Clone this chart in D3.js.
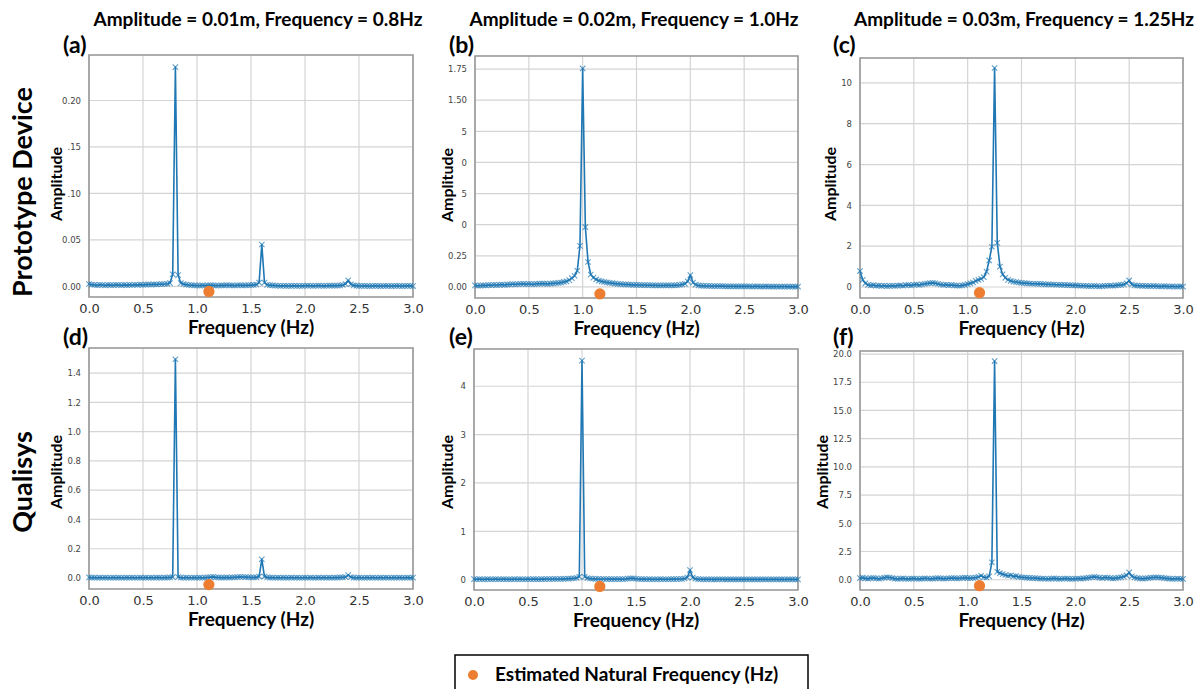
<!DOCTYPE html>
<html>
<head>
<meta charset="utf-8">
<script src="https://cdn.jsdelivr.net/npm/d3@7/dist/d3.min.js"></script>
<style>
  body { margin: 0; background: #fff; }
  svg { display: block; }
</style>
</head>
<body>
<script>
// ---------------- DATA ----------------
const columnTitles = ["Amplitude = 0.01m, Frequency = 0.8Hz", "Amplitude = 0.02m, Frequency = 1.0Hz", "Amplitude = 0.03m, Frequency = 1.25Hz"];
const rowTitles = ["Prototype Device", "Qualisys"];
const panelLabels = ["(a)", "(b)", "(c)", "(d)", "(e)", "(f)"];
const legendLabel = "Estimated Natural Frequency (Hz)";

const freqs = [0,0.025,0.05,0.075,0.1,0.125,0.15,0.175,0.2,0.225,0.25,0.275,0.3,0.325,0.35,0.375,0.4,0.425,0.45,0.475,
  0.5,0.525,0.55,0.575,0.6,0.625,0.65,0.675,0.7,0.725,0.75,0.775,0.8,0.825,0.85,0.875,0.9,0.925,0.95,0.975,
  1.0,1.025,1.05,1.075,1.1,1.125,1.15,1.175,1.2,1.225,1.25,1.275,1.3,1.325,1.35,1.375,1.4,1.425,1.45,1.475,
  1.5,1.525,1.55,1.575,1.6,1.625,1.65,1.675,1.7,1.725,1.75,1.775,1.8,1.825,1.85,1.875,1.9,1.925,1.95,1.975,
  2.0,2.025,2.05,2.075,2.1,2.125,2.15,2.175,2.2,2.225,2.25,2.275,2.3,2.325,2.35,2.375,2.4,2.425,2.45,2.475,
  2.5,2.525,2.55,2.575,2.6,2.625,2.65,2.675,2.7,2.725,2.75,2.775,2.8,2.825,2.85,2.875,2.9,2.925,2.95,2.975,3.0];

const ampA = [0.0025,0.0018,0.0015,0.0012,0.0016,0.0014,0.0011,0.0015,0.0013,0.0012,0.0016,0.0014,0.0012,0.0015,0.0013,0.0016,0.0014,0.0017,0.0015,0.0018,0.0016,
  0.0018,0.0020,0.0019,0.0021,0.0020,0.0022,0.0023,0.0025,0.0028,0.0035,
  0.013,0.236,0.012,
  0.0035,0.0025,0.0018,0.0014,0.0012,0.0010,0.0009,
  0.0008,0.0010,0.0009,0.0011,0.0012,0.0010,0.0008,0.0009,0.0011,0.0010,0.0012,0.0011,0.0010,0.0009,0.0011,0.0012,0.0010,0.0011,0.0012,0.0013,0.0015,0.0018,
  0.004,0.045,0.004,
  0.0016,0.0012,0.0010,0.0008,0.0006,0.0005,0.0006,0.0005,0.0004,0.0005,0.0006,0.0005,0.0004,0.0005,0.0006,0.0007,0.0006,0.0005,0.0006,0.0007,0.0006,0.0005,0.0006,0.0007,0.0008,0.0007,0.0008,0.0010,0.0014,
  0.0025,0.0065,0.0022,
  0.0010,0.0007,0.0005,0.0004,0.0005,0.0004,0.0003,0.0004,0.0005,0.0004,0.0003,0.0004,0.0005,0.0004,0.0003,0.0004,0.0005,0.0004,0.0003,0.0004,0.0005,0.0004,0.0003];

const ampB = [0.012,0.010,0.011,0.013,0.012,0.015,0.014,0.016,0.015,0.017,0.018,0.017,0.019,0.020,0.022,0.021,0.023,0.024,0.025,0.023,0.024,
  0.022,0.023,0.025,0.026,0.027,0.026,0.025,0.027,0.028,0.030,0.032,0.035,0.040,0.045,0.055,0.070,
  0.09,0.13,0.33,1.755,0.48,0.20,0.10,
  0.075,0.060,0.050,0.045,0.040,0.036,0.033,0.030,0.027,0.025,0.023,0.021,0.020,0.019,0.018,0.017,0.016,
  0.016,0.015,0.015,0.014,0.014,0.013,0.013,0.012,0.012,0.012,0.013,0.013,0.012,0.013,0.014,0.016,0.020,
  0.025,0.045,0.095,0.035,0.018,
  0.012,0.010,0.009,0.008,0.008,0.007,0.007,0.006,0.006,0.006,0.005,0.005,0.005,0.005,0.004,0.005,0.004,0.004,0.004,0.004,
  0.003,0.004,0.004,0.003,0.003,0.004,0.003,0.003,0.003,0.003,0.002,0.003,0.003,0.002,0.002,0.003,0.002,0.002];

const ampC = [0.78,0.35,0.18,
  0.10,0.08,0.09,0.06,0.07,0.05,0.06,0.04,0.05,0.06,0.05,0.07,0.08,0.06,0.09,0.10,0.08,0.11,
  0.12,0.10,0.13,0.15,0.17,0.19,0.20,0.18,0.15,0.12,0.10,0.11,0.09,0.10,0.08,0.07,
  0.06,0.08,0.10,0.14,
  0.18,0.22,0.30,0.35,0.40,0.48,0.75,1.30,
  1.97,10.73,2.16,1.00,
  0.62,0.45,0.35,0.30,0.26,0.24,0.22,0.20,
  0.19,0.18,0.17,0.16,0.16,0.15,0.15,0.14,0.13,0.13,0.12,0.12,0.11,0.11,0.10,0.10,0.09,0.09,0.08,0.08,
  0.07,0.06,0.06,0.05,0.04,0.04,0.05,0.04,0.03,0.04,0.05,0.06,0.07,0.06,0.08,0.09,0.10,
  0.12,0.18,0.32,0.12,
  0.08,0.07,0.06,0.05,0.05,0.04,0.04,0.05,0.04,0.03,0.03,0.04,0.03,0.02,0.03,0.02,0.02,0.03,0.02];

const ampD = [0.004,0.003,0.003,0.002,0.003,0.002,0.003,0.002,0.002,0.003,0.002,0.003,0.002,0.002,0.003,0.002,0.003,0.002,0.002,0.003,0.002,0.003,0.002,0.003,0.002,0.003,0.003,0.002,0.003,0.003,0.004,
  0.006,1.494,0.006,
  0.003,0.002,0.003,0.002,0.002,0.003,0.002,0.003,0.002,0.003,0.004,0.006,0.008,0.005,0.004,0.003,0.003,0.004,0.003,0.004,0.005,0.006,0.008,0.007,0.006,0.005,0.004,0.004,0.005,
  0.010,0.128,0.010,
  0.004,0.003,0.003,0.002,0.003,0.002,0.003,0.002,0.002,0.003,0.002,0.003,0.002,0.002,0.003,0.002,0.003,0.002,0.002,0.003,0.002,0.003,0.002,0.003,0.002,0.003,0.003,0.004,0.005,
  0.006,0.020,0.006,
  0.003,0.002,0.003,0.002,0.002,0.003,0.002,0.003,0.002,0.002,0.003,0.002,0.003,0.002,0.002,0.003,0.002,0.003,0.002,0.002,0.003,0.002,0.003];

const ampE = [0.012,0.010,0.011,0.009,0.010,0.011,0.009,0.010,0.012,0.010,
  0.009,0.011,0.010,0.009,0.010,0.011,0.010,0.012,0.010,0.009,
  0.011,0.010,0.012,0.011,0.010,0.013,0.012,0.014,0.013,0.015,
  0.016,0.014,0.016,0.018,0.020,0.022,0.025,0.030,0.038,
  0.06,4.53,0.06,
  0.035,0.025,0.020,0.018,0.016,0.015,0.014,0.013,0.012,0.012,
  0.013,0.012,0.011,0.012,0.015,0.022,0.030,0.028,0.020,0.015,
  0.012,0.011,0.010,0.011,0.010,0.009,0.010,0.011,0.010,0.009,
  0.010,0.011,0.012,0.013,0.015,0.018,0.025,
  0.045,0.20,0.045,
  0.020,0.012,0.010,0.009,0.008,0.009,0.008,0.007,0.008,0.009,
  0.008,0.007,0.008,0.007,0.006,0.007,0.008,0.007,0.006,0.007,
  0.006,0.007,0.008,0.007,0.006,0.007,0.006,0.005,0.006,0.007,
  0.006,0.005,0.006,0.005,0.006,0.007,0.006,0.005,0.006];

const ampF = [0.15,0.18,0.12,0.10,0.14,0.16,0.12,0.09,0.13,0.18,
  0.22,0.20,0.15,0.10,0.08,0.10,0.12,0.09,0.08,0.10,
  0.11,0.09,0.08,0.10,0.12,0.11,0.09,0.10,0.12,0.14,
  0.12,0.10,0.11,0.13,0.15,0.14,0.12,0.13,0.16,0.18,
  0.15,
  0.14,0.16,0.20,0.25,0.35,0.22,0.20,0.30,
  1.54,19.38,0.70,
  0.58,0.50,0.42,0.35,0.40,0.30,0.32,0.25,0.22,
  0.20,0.18,0.16,0.15,0.14,0.12,0.10,0.11,0.09,0.08,
  0.10,0.12,0.10,0.08,0.09,0.11,0.10,0.08,0.07,0.09,
  0.11,0.10,0.12,0.15,0.18,0.22,0.25,0.22,0.18,0.15,
  0.20,0.18,0.15,0.12,0.14,0.18,0.22,0.28,0.38,0.65,
  0.30,0.20,0.15,0.12,0.10,0.12,0.15,0.18,0.20,0.22,
  0.20,0.18,0.15,0.12,0.10,0.08,0.09,0.10,0.08,0.07];

// estimated natural frequency markers (x in Hz, y in amplitude units of each panel)
const naturalFreq = [1.11, 1.16, 1.11, 1.11, 1.165, 1.11];
const naturalY = [-0.0055, -0.056, -0.28, -0.045, -0.14, -0.53];

// y-axis ranges
const yMins = [-0.0115, -0.089, -0.54, -0.075, -0.213, -0.91];
const yMaxs = [0.249, 1.855, 11.22, 1.571, 4.77, 20.27];

// tick values and labels
const xTickValues = [0, 0.5, 1.0, 1.5, 2.0, 2.5, 3.0];
const xTickLabels = ["0.0", "0.5", "1.0", "1.5", "2.0", "2.5", "3.0"];
const yTicksA = [0, 0.05, 0.10, 0.15, 0.20];
const yLabelsA = ["0.00", "0.05", ".10", ".15", "0.20"];
const yTicksB = [0, 0.25, 0.5, 0.75, 1.0, 1.25, 1.5, 1.75];
const yLabelsB = ["0.00", "0.25", "0", "5", "0", "5", "1.50", "1.75"];
const yTicksC = [0, 2, 4, 6, 8, 10];
const yLabelsC = ["0", "2", "4", "6", "8", "10"];
const yTicksD = [0, 0.2, 0.4, 0.6, 0.8, 1.0, 1.2, 1.4];
const yLabelsD = ["0.0", "0.2", "0.4", "0.6", "0.8", "1.0", "1.2", "1.4"];
const yTicksE = [0, 1, 2, 3, 4];
const yLabelsE = ["0", "1", "2", "3", "4"];
const yTicksF = [0, 2.5, 5, 7.5, 10, 12.5, 15, 17.5, 20];
const yLabelsF = ["0.0", "2.5", "5.0", "7.5", "10.0", "12.5", "15.0", "17.5", "20.0"];

const xTitle = "Frequency (Hz)";
const yTitle = "Amplitude";

// ---------------- LAYOUT / STYLE ----------------
const W = 1199, H = 689;
const boxes = [
  {l: 89,  r: 413,  t: 55,  b: 297},
  {l: 475, r: 798,  t: 56,  b: 298},
  {l: 860, r: 1183, t: 58,  b: 298},
  {l: 89,  r: 413,  t: 348, b: 589},
  {l: 474, r: 798,  t: 349, b: 590},
  {l: 860, r: 1183, t: 351, b: 590}
];
const amps = [ampA, ampB, ampC, ampD, ampE, ampF];
const yTicks = [yTicksA, yTicksB, yTicksC, yTicksD, yTicksE, yTicksF];
const yLabels = [yLabelsA, yLabelsB, yLabelsC, yLabelsD, yLabelsE, yLabelsF];
const titleFont = "Lato, 'Open Sans', sans-serif";
const tickFont = "'DejaVu Sans', sans-serif";
const blue = "#1f77b4";
const orange = "#ed7d31";

const svg = d3.select("body").append("svg").attr("width", W).attr("height", H);
svg.append("rect").attr("width", W).attr("height", H).attr("fill", "#fff");

// column titles
const colCenters = [258, 634, 1024];
columnTitles.forEach((t, i) => {
  svg.append("text").attr("x", colCenters[i]).attr("y", 26)
    .attr("text-anchor", "middle").attr("font-family", titleFont)
    .attr("font-weight", "bold").attr("font-size", 19).attr("fill", "#000").text(t);
});

// row titles
const rowCenters = [192, 482];
rowTitles.forEach((t, i) => {
  svg.append("text").attr("transform", `translate(32,${rowCenters[i]}) rotate(-90)`)
    .attr("text-anchor", "middle").attr("font-family", titleFont)
    .attr("font-weight", "bold").attr("font-size", 27).attr("fill", "#000").text(t);
});

boxes.forEach((bx, i) => {
  const x = d3.scaleLinear().domain([0, 3]).range([bx.l, bx.r]);
  const y = d3.scaleLinear().domain([yMins[i], yMaxs[i]]).range([bx.b, bx.t]);
  const g = svg.append("g");

  // grid
  g.append("g").selectAll("line").data(xTickValues).join("line")
    .attr("x1", d => x(d)).attr("x2", d => x(d)).attr("y1", bx.t).attr("y2", bx.b)
    .attr("stroke", "#d4d4d4").attr("stroke-width", 1.2);
  g.append("g").selectAll("line").data(yTicks[i]).join("line")
    .attr("x1", bx.l).attr("x2", bx.r).attr("y1", d => y(d)).attr("y2", d => y(d))
    .attr("stroke", "#d4d4d4").attr("stroke-width", 1.2);

  // frame
  g.append("rect").attr("x", bx.l).attr("y", bx.t).attr("width", bx.r - bx.l).attr("height", bx.b - bx.t)
    .attr("fill", "none").attr("stroke", "#9a9a9a").attr("stroke-width", 1.6);

  // axes
  const xAxis = d3.axisBottom(x).tickValues(xTickValues).tickFormat((d, k) => xTickLabels[k]).tickSize(0).tickPadding(7);
  const xg = g.append("g").attr("transform", `translate(0,${bx.b})`).call(xAxis);
  xg.select(".domain").remove();
  xg.selectAll("text").attr("font-family", tickFont).attr("font-size", 13).attr("fill", "#333");

  const yAxis = d3.axisLeft(y).tickValues(yTicks[i]).tickFormat((d, k) => yLabels[i][k]).tickSize(0).tickPadding(8);
  const yg = g.append("g").attr("transform", `translate(${bx.l},0)`).call(yAxis);
  yg.select(".domain").remove();
  yg.selectAll("text").attr("font-family", tickFont).attr("font-size", 8.5).attr("fill", "#444");

  // series
  const data = freqs.map((f, k) => ({f, a: amps[i][k]}));
  const line = d3.line().x(d => x(d.f)).y(d => y(d.a));
  g.append("path").datum(data).attr("d", line).attr("fill", "none")
    .attr("stroke", blue).attr("stroke-width", 1.6).attr("stroke-linejoin", "round");
  g.append("g").selectAll("path").data(data).join("path")
    .attr("transform", d => `translate(${x(d.f)},${y(d.a)})`)
    .attr("d", "M-2.7,-2.7L2.7,2.7M-2.7,2.7L2.7,-2.7")
    .attr("stroke", blue).attr("stroke-opacity", 0.7).attr("stroke-width", 1.1).attr("fill", "none");

  // natural frequency dot
  g.append("circle").attr("cx", x(naturalFreq[i])).attr("cy", y(naturalY[i])).attr("r", 5.6).attr("fill", orange);

  // axis titles
  const cx = (bx.l + bx.r) / 2;
  g.append("text").attr("x", cx).attr("y", bx.b + 37)
    .attr("text-anchor", "middle").attr("font-family", titleFont).attr("font-weight", "bold")
    .attr("font-size", 19).attr("fill", "#000").text(xTitle);
  const ylx = [56, 447, 830, 56, 447, 822][i];
  const yly = [184, 185, 184, 472, 472, 472][i];
  g.append("text").attr("transform", `translate(${ylx + 6},${yly}) rotate(-90)`)
    .attr("text-anchor", "middle").attr("font-family", titleFont).attr("font-weight", "bold")
    .attr("font-size", 16).attr("fill", "#000").text(yTitle);

  // panel label
  const plx = [63, 449, 833, 63, 449, 833][i];
  const ply = [53, 53, 53, 345, 345, 345][i];
  g.append("text").attr("x", plx).attr("y", ply).attr("font-family", titleFont).attr("font-weight", "bold")
    .attr("font-size", 23).attr("fill", "#000").text(panelLabels[i]);
});

// legend
const lg = svg.append("g");
lg.append("rect").attr("x", 455).attr("y", 655).attr("width", 353).attr("height", 45)
  .attr("fill", "#fff").attr("stroke", "#000").attr("stroke-width", 1.5);
lg.append("circle").attr("cx", 473).attr("cy", 675).attr("r", 5).attr("fill", orange);
lg.append("text").attr("x", 495).attr("y", 681).attr("font-family", titleFont).attr("font-weight", "bold")
  .attr("font-size", 19).attr("fill", "#000").text(legendLabel);
</script>
</body>
</html>
